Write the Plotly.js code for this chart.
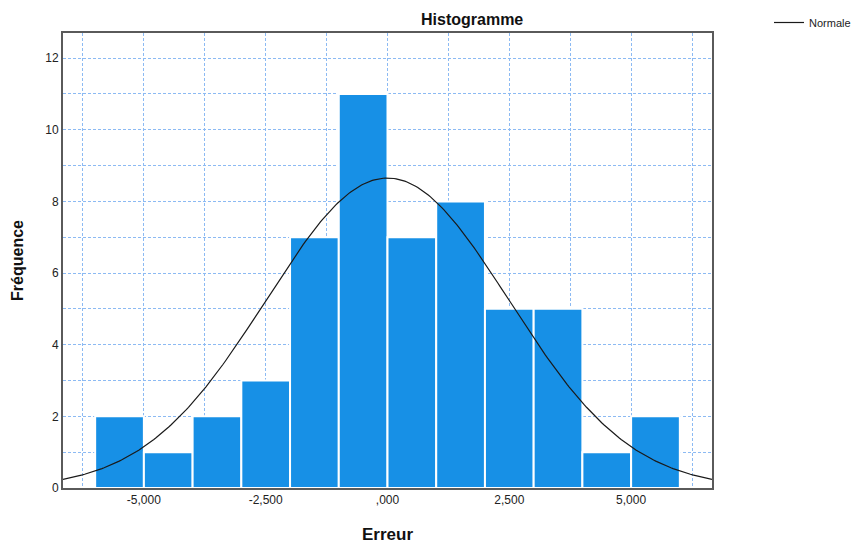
<!DOCTYPE html>
<html>
<head>
<meta charset="utf-8">
<script src="https://cdn.plot.ly/plotly-3.0.1.min.js"></script>
<style>html,body{margin:0;padding:0;background:#fff;}#chart{width:856px;height:547px;}</style>
</head>
<body>
<div id="chart"></div>
<script>
// Histogram bins (lower edge of each bin, width 1) and frequencies
const binLower = [-6, -5, -4, -3, -2, -1, 0, 1, 2, 3, 4, 5];
const counts   = [ 2,  1,  2,  3,  7, 11, 7, 8, 5, 5, 1, 2];
const binWidth = 1;
// Fitted normal curve parameters
const normMean = 0.0;
const normSd = 2.49;
const normN = 54;
// Tick labels
const xTickVals = [-5, -2.5, 0, 2.5, 5];
const xTickText = ['-5,000', '-2,500', ',000', '2,500', '5,000'];
const yTickVals = [0, 2, 4, 6, 8, 10, 12];
const yTickText = ['0', '2', '4', '6', '8', '10', '12'];

const xRange = [-6.66, 6.66];
const centers = binLower.map(v => v + binWidth / 2);

const curveX = [], curveY = [];
const steps = 300;
for (let i = 0; i <= steps; i++) {
  const x = xRange[0] + (xRange[1] - xRange[0]) * i / steps;
  const z = (x - normMean) / normSd;
  curveX.push(x);
  curveY.push(normN * binWidth / (normSd * Math.sqrt(2 * Math.PI)) * Math.exp(-0.5 * z * z));
}

const font = 'Liberation Sans, Arial, sans-serif';
const gridCol = '#8cbaf3';

const W = 856, H = 547, mL = 63, mR = 0, mT = 10, mB = 59;
const pw = W - mL - mR, ph = H - mT - mB;
const plotRight = 712, plotTop = 33;
const xDom = [0, (plotRight - mL) / pw];
const yDom = [0, (H - mB - plotTop) / ph];

const data = [
  {
    type: 'bar', x: centers, y: counts, width: binWidth,
    marker: {color: '#1790e6', line: {color: '#ffffff', width: 2}},
    showlegend: false, hoverinfo: 'x+y'
  },
  {
    type: 'scatter', mode: 'lines', x: curveX, y: curveY, name: 'Normale',
    line: {color: '#1a1a1a', width: 1.2}, showlegend: true
  }
];

const layout = {
  width: W, height: H,
  margin: {l: mL, r: mR, t: mT, b: mB},
  paper_bgcolor: '#fff', plot_bgcolor: '#fff',
  font: {family: font, size: 12, color: '#222'},
  bargap: 0,
  xaxis: {
    domain: xDom,
    range: xRange, tickmode: 'array', tickvals: xTickVals, ticktext: xTickText,
    showgrid: true, gridcolor: gridCol, griddash: '3px,2px', gridwidth: 1,
    minor: {dtick: 1.25, tick0: 0, showgrid: true, gridcolor: gridCol, griddash: '3px,2px', gridwidth: 1},
    zeroline: false, showline: true, linecolor: '#5a5a5a', linewidth: 2, mirror: true,
    ticks: '', tickfont: {size: 12, color: '#222'},
    title: {text: '<b>Erreur</b>', font: {size: 17, color: '#111'}, standoff: 22}
  },
  yaxis: {
    domain: yDom,
    range: [0, 12.7], tickmode: 'array', tickvals: yTickVals, ticktext: yTickText,
    showgrid: true, gridcolor: gridCol, griddash: '3px,2px', gridwidth: 1,
    minor: {dtick: 1, tick0: 0, showgrid: true, gridcolor: gridCol, griddash: '3px,2px', gridwidth: 1},
    zeroline: false, showline: true, linecolor: '#5a5a5a', linewidth: 2, mirror: true,
    ticks: '', tickfont: {size: 12, color: '#222'},
    title: {text: '<b>Fréquence</b>', font: {size: 16, color: '#111'}, standoff: 18}
  },
  legend: {
    x: 1, y: (H - mB - 8) / ph, xanchor: 'right', yanchor: 'top',
    font: {size: 11, color: '#222'}, bgcolor: 'rgba(0,0,0,0)', itemwidth: 30
  },
  annotations: [{
    text: '<b>Histogramme</b>', xref: 'paper', yref: 'paper', x: (472 - mL) / pw, y: yDom[1],
    xanchor: 'center', yanchor: 'bottom', yshift: 3, showarrow: false,
    font: {size: 16, color: '#111', family: font}
  }]
};

Plotly.newPlot('chart', data, layout, {displayModeBar: false, staticPlot: true});
</script>
</body>
</html>
